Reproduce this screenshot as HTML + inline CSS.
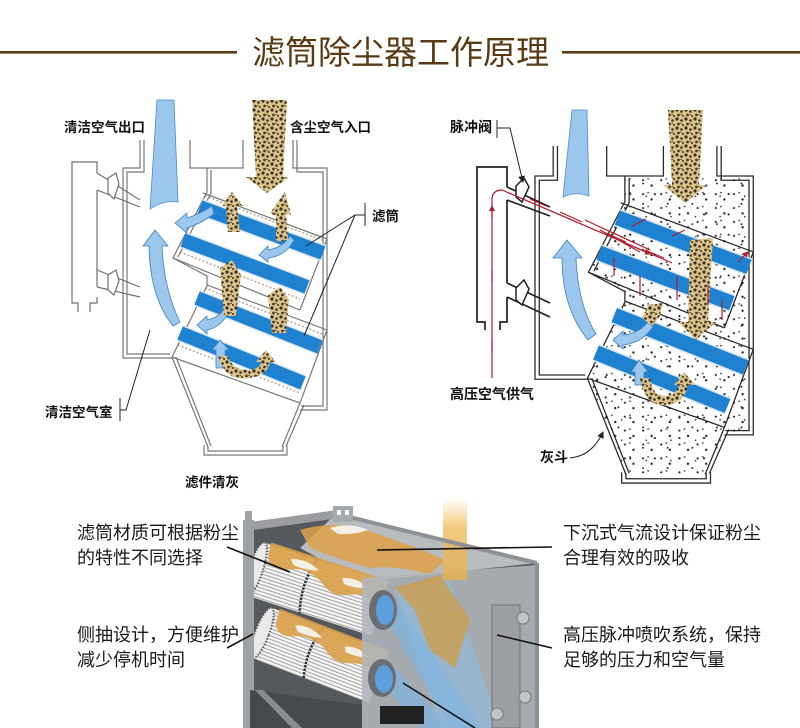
<!DOCTYPE html>
<html><head><meta charset="utf-8">
<style>
html,body{margin:0;padding:0;background:#fff;width:800px;height:728px;overflow:hidden}
svg{display:block}
</style></head><body>
<svg width="800" height="728" viewBox="0 0 800 728" xmlns="http://www.w3.org/2000/svg" font-family="'Liberation Sans','Noto Sans CJK SC',sans-serif">
<defs>
<pattern id="dust" width="9" height="9" patternUnits="userSpaceOnUse">
 <rect width="9" height="9" fill="#dcc48c"/>
 <circle cx="2" cy="2" r="1.6" fill="#3a3020"/>
 <circle cx="6.5" cy="3.5" r="1.3" fill="#3a3020"/>
 <circle cx="3.5" cy="7" r="1.4" fill="#4a3d28"/>
 <circle cx="8" cy="8" r="1" fill="#3a3020"/>
 <rect x="5.5" y="6" width="1.5" height="1" fill="#5a4a30"/>
</pattern>
<pattern id="spk" width="17" height="13" patternUnits="userSpaceOnUse">
 <circle cx="3" cy="3" r="1" fill="#222"/>
 <circle cx="11" cy="8" r="1.1" fill="#222"/>
 <rect x="7" y="1" width="1.6" height="1.2" fill="#333"/>
</pattern>
<pattern id="spk2" width="23" height="19" patternUnits="userSpaceOnUse">
 <circle cx="5" cy="14" r="1" fill="#222"/>
 <circle cx="17" cy="4" r="0.9" fill="#222"/>
 <circle cx="20" cy="16" r="0.8" fill="#333"/>
</pattern>
<pattern id="pleat" width="6" height="3.4" patternUnits="userSpaceOnUse">
 <rect width="6" height="3.4" fill="#f3f3f3"/>
 <rect y="2.5" width="6" height="0.9" fill="#9a9a9a"/>
</pattern>
<linearGradient id="ycol" x1="0" y1="0" x2="0" y2="1">
 <stop offset="0" stop-color="#f2c46a" stop-opacity="0"/>
 <stop offset="0.35" stop-color="#efbe60" stop-opacity="0.8"/>
 <stop offset="1" stop-color="#e6b050" stop-opacity="0.85"/>
</linearGradient>
<marker id="ra" markerWidth="6" markerHeight="6" refX="5" refY="3" orient="auto" markerUnits="userSpaceOnUse">
 <path d="M0,0 L6,3 L0,6 Z" fill="#b01c2c"/>
</marker>
<marker id="ka" markerWidth="7" markerHeight="7" refX="6" refY="3.5" orient="auto" markerUnits="userSpaceOnUse">
 <path d="M0,0 L7,3.5 L0,7 Z" fill="#222"/>
</marker>
<clipPath id="dirty"><path d="M207,170 H325 V408 H300 L282,447 H208 L172,357 L207,286 V276 L173,258 L207,192 Z"/></clipPath>
<g id="casing" fill="none" stroke="currentColor" stroke-width="1.2">
 <path d="M140,140 V168 H123 V358 H172"/>
 <path d="M144,140 V172 H127 V354 H170"/>
 <path d="M190,140 V168 H243 V140"/>
 <path d="M293,140 V168 H327 V410 H300"/>
 <path d="M297,140 V172 H323 V406 H301"/>
 <path d="M207,168 V192 L173,258 L207,276 V286 L172,357"/>
 <path d="M211,170 V193 L178,257"/>
 <path d="M172,357 L208,447 M300,403 L282,447"/>
 <path d="M176,357 L211,446 M304,405 L286,446"/>
 <path d="M204,445 V455 H287 V445 M208,446 V451 H283 V446"/>
 <path d="M203,193 L327,239 M173,258 L300,310 M327,239 L300,310"/>
 <path d="M207,285 L327,330 M172,357 L300,403 M327,330 L300,403"/>
</g>
<g id="stripes" fill="none" stroke-linecap="butt">
 <g stroke="#d9e7f3" stroke-width="17">
  <path d="M200,207 L323,253 M183,240 L307,287 M197,298 L320,347 M180,333 L303,383"/>
 </g>
 <g stroke="#1f82d0" stroke-width="14">
  <path d="M200,207 L323,253 M183,240 L307,287 M197,298 L320,347 M180,333 L303,383"/>
 </g>
</g>
</defs>

<!-- Title -->
<rect x="0" y="51" width="237" height="2.6" fill="#5e3d12"/>
<rect x="562" y="51" width="238" height="2.6" fill="#5e3d12"/>
<text x="252" y="64" font-size="33" fill="#5a3a14">滤筒除尘器工作原理</text>

<!-- ============ LEFT DIAGRAM ============ -->
<g fill="none" stroke="#707070" stroke-width="1.2">
 <path d="M97,173 V162 H72 V303 H78 V312 M90,312 V303 H97 V297 M97,287 V190"/>
 <path d="M97,173 L140,200 M97,190 L140,207"/>
 <path d="M97,270 L140,287 M97,287 L140,297"/>
</g>
<path d="M108,178 L116,173 L119,184 L114,199 L108,193 Z" fill="#fff" stroke="#707070" stroke-width="1.2"/>
<path d="M108,275 L116,270 L119,281 L114,295 L108,290 Z" fill="#fff" stroke="#707070" stroke-width="1.2"/>
<use href="#casing" style="color:#777"/>
<g fill="none" stroke="#9a8060" stroke-width="1.5" stroke-dasharray="2 2" opacity="0.7">
 <path d="M205,196 L325,241 M180,252 L300,299 M205,288 L322,334 M178,345 L300,393"/>
</g>
<use href="#stripes"/>
<!-- outlet and inlet -->
<path d="M157,100 L174,100 L178,202 Q163,200 150,209 Z" fill="#9cc7ec" stroke="#4d8cc8" stroke-width="0.8"/>
<path d="M252,100 L287,100 L283,177 L289,177 L267,193 L246,177 L256,177 Z" fill="url(#dust)"/>
<!-- big curved blue arrow -->
<path d="M143,246 L155,230 L168,246 L162,246 Q164,290 180,322 L173,326 Q150,298 149,246 Z" fill="#9cc7ec" stroke="#3c7fc0" stroke-width="0.8"/>
<!-- small blue arrows -->
<g fill="#9cc7ec" stroke="#3c7fc0" stroke-width="0.8">
 <path d="M175,223 L187,213 L187,218 Q200,214 212,206 L214,214 Q200,224 187,228 L187,233 Z"/>
 <path d="M259,255 L268,246 L268,250 Q282,248 290,236 L294,240 Q286,256 268,258 L268,262 Z"/>
 <path d="M197,325 L207,316 L207,320 Q218,318 225,308 L229,311 Q222,327 207,330 L207,334 Z"/>
 <path d="M212,350 L220,340 L229,350 L225,350 L226,368 L216,368 L216,350 Z"/>
</g>
<!-- dust arrows -->
<g fill="url(#dust)">
 <path d="M222,206 L232,192 L243,206 L237,206 L240,232 L228,232 L226,206 Z"/>
 <path d="M270,213 L285,192 L291,215 L286,214 L288,240 L276,242 L276,216 Z"/>
 <path d="M220,268 L232,260 L241,275 L236,316 L224,316 Z"/>
 <path d="M268,295 L280,287 L289,300 L286,333 L272,333 Z"/>
 <path d="M218,356 Q225,382 250,378 Q268,375 270,362 L276,362 L266,350 L256,362 L262,362 Q258,370 248,370 Q232,370 228,356 Z"/>
</g>
<!-- left labels -->
<g font-size="13.5" font-weight="bold" fill="#111">
 <text x="64" y="132">清洁空气出口</text>
 <text x="290" y="132">含尘空气入口</text>
 <text x="372" y="221">滤筒</text>
 <text x="45" y="417">清洁空气室</text>
 <text x="185" y="487">滤件清灰</text>
</g>
<g fill="none" stroke="#222" stroke-width="1">
 <path d="M365,203 V226 M365,215 H355 L306,246 M355,215 L304,336"/>
 <path d="M120,398 V421 M120,410 H126 L150,330"/>
</g>

<!-- ============ RIGHT DIAGRAM ============ -->
<g transform="translate(535,146) scale(1.07) translate(-123,-140)">
 <rect x="160" y="160" width="180" height="300" fill="url(#spk)" clip-path="url(#dirty)"/>
 <rect x="160" y="160" width="180" height="300" fill="url(#spk2)" clip-path="url(#dirty)"/>
 <use href="#casing" style="color:#2a2a2a"/>
 <use href="#stripes"/>
</g>
<g fill="none" stroke="#222" stroke-width="1.7">
 <path d="M507,187 V167 H477 V322 H485 V330 M500,330 V322 H507 V297 M507,283 V200"/>
 <path d="M507,187 L550,207 M507,200 L550,216"/>
 <path d="M507,283 L550,303 M507,297 L550,317"/>
</g>
<path d="M516,186 L524,178 L529,187 L522,202 L516,197 Z" fill="#fff" stroke="#222" stroke-width="1.5"/>
<path d="M516,288 L524,280 L529,289 L522,305 L516,300 Z" fill="#fff" stroke="#222" stroke-width="1.5"/>
<!-- outlet / inlet right -->
<path d="M572,110 L587,110 L589,196 Q576,191 563,197 Z" fill="#9cc7ec" stroke="#4d8cc8" stroke-width="0.8"/>
<path d="M668,110 L703,110 L699,185 L707,185 L685,203 L663,185 L672,185 Z" fill="url(#dust)"/>
<path d="M690,240 L713,238 L708,322 L716,322 L696,340 L678,322 L688,322 Z" fill="url(#dust)"/>
<path d="M553,258 L567,240 L582,258 L576,258 Q578,305 596,334 L588,340 Q562,308 562,258 Z" fill="#9cc7ec" stroke="#3c7fc0" stroke-width="0.8"/>
<g fill="#9cc7ec" stroke="#3c7fc0" stroke-width="0.8">
 <path d="M613,340 L623,331 L623,335 Q638,334 648,322 L653,327 Q642,343 623,345 L623,349 Z"/>
 <path d="M631,372 L639,360 L648,372 L644,372 L644,385 L635,385 L635,372 Z"/>
</g>
<g fill="url(#dust)">
 <path d="M642,318 L648,305 L662,303 L660,316 L652,326 Z"/>
 <path d="M640,378 Q645,408 668,405 Q685,402 688,385 L695,385 L684,372 L674,385 L679,385 Q676,395 666,396 Q652,396 650,378 Z"/>
</g>
<!-- red pulse lines -->
<g fill="none" stroke="#b01c2c" stroke-width="1.2">
 <path d="M492,378 V200 Q492,190 502,190 L672,263"/>
 <path d="M585,220 L650,250 M600,230 L640,252"/>
 <path d="M492,352 V340 M492,282 V270 M492,218 V206" marker-end="url(#ra)"/>
 <path d="M530,199 L546,206 M560,212 L582,222 M606,233 L626,242 M645,250 L664,258 M630,245 L650,254" marker-end="url(#ra)"/>
 <path d="M614,276 V258 M640,296 V276 M677,276 V300 M708,285 V305 M722,300 V320 M646,219 L632,226 M685,230 L672,236 M738,262 L748,252" marker-end="url(#ra)"/>
</g>
<!-- right labels -->
<g font-size="14" font-weight="bold" fill="#111">
 <text x="450" y="132">脉冲阀</text>
 <text x="450" y="399">高压空气供气</text>
 <text x="540" y="462">灰斗</text>
</g>
<g fill="none" stroke="#222" stroke-width="1">
 <path d="M497,120 V138"/>
 <path d="M497,128 H510 L523,182" marker-end="url(#ka)"/>
 <path d="M570,458 Q592,456 603,432" marker-end="url(#ka)"/>
</g>

<!-- ============ PHOTO ============ -->
<g>
 <polygon points="250,525 337,513 537,563 537,728 250,728" fill="#55585c"/>
 <polygon points="337,513 537,563 362,582 300,548" fill="#b9bcbf"/>
 <!-- upper cylinder -->
 <g transform="translate(256,569) rotate(18)">
  <rect x="0" y="-28" width="130" height="56" fill="url(#pleat)"/>
  <ellipse cx="0" cy="0" rx="7" ry="28" fill="#e9e9e9" stroke="#555" stroke-width="2" stroke-dasharray="1.5 1.5"/>
  <path d="M55,-28 Q47,0 55,28" stroke="#222" stroke-width="2.5" stroke-dasharray="2 1.5" fill="none"/>
  <path d="M6,-30 L130,-30 L130,-4 Q112,-12 96,-4 Q80,4 66,-8 Q46,-18 30,-9 Q18,-3 8,-14 Z" fill="#dca048" opacity="0.9"/>
  <path d="M30,-20 Q45,-26 60,-18 Q50,-14 35,-15 Z M85,-18 Q100,-24 112,-16 Q100,-12 88,-13 Z" fill="#f4efe4"/>
 </g>
 <!-- lower cylinder -->
 <g transform="translate(262,633) rotate(21)">
  <rect x="0" y="-27" width="125" height="54" fill="url(#pleat)"/>
  <ellipse cx="0" cy="0" rx="7" ry="27" fill="#e9e9e9" stroke="#555" stroke-width="2" stroke-dasharray="1.5 1.5"/>
  <path d="M55,-27 Q47,0 55,27" stroke="#222" stroke-width="2.5" stroke-dasharray="2 1.5" fill="none"/>
  <path d="M8,-29 L125,-29 L125,-2 Q108,-10 92,-3 Q78,3 64,-8 Q46,-16 30,-8 Q18,-2 10,-12 Z" fill="#dca048" opacity="0.9"/>
  <path d="M28,-19 Q42,-25 58,-17 Q47,-13 33,-14 Z M82,-17 Q96,-23 108,-15 Q96,-11 85,-12 Z" fill="#f4efe4"/>
 </g>
 <!-- orange on top area -->
 <path d="M300,530 Q340,518 380,535 Q420,548 445,560 L430,575 Q400,565 370,568 Q340,560 310,548 Z" fill="#dca048" opacity="0.85"/>
 <path d="M330,528 Q350,522 368,530 Q355,535 338,534 Z" fill="#f4efe4"/>
 <!-- front face -->
 <polygon points="362,578 537,565 537,728 362,728" fill="#b0b5bb" opacity="0.88"/>
 <polygon points="395,590 450,580 500,728 440,728" fill="#8cbde6" opacity="0.55"/>
 <path d="M395,588 L440,575 L470,620 L455,668 L430,650 L415,610 Z" fill="#d49a3c" opacity="0.7"/>
 <!-- blue openings -->
 <g>
  <polygon points="374,600 394,598 482,728 452,728" fill="#7fb3e0" opacity="0.7"/>
  <polygon points="372,668 392,665 450,728 420,728" fill="#7fb3e0" opacity="0.7"/>
  <ellipse cx="383" cy="610" rx="14" ry="20" fill="#6a6e73"/>
  <ellipse cx="385" cy="610" rx="9" ry="15" fill="#5b9fdc"/>
  <ellipse cx="382" cy="678" rx="14" ry="19" fill="#6a6e73"/>
  <ellipse cx="384" cy="679" rx="9" ry="14" fill="#5b9fdc"/>
 </g>
 <!-- yellow column -->
 <rect x="443" y="498" width="24" height="82" fill="url(#ycol)"/>
 <!-- frame -->
 <rect x="243" y="520" width="11" height="208" fill="#9fa2a5"/>
 <rect x="245" y="511" width="7" height="12" fill="#9fa2a5"/>
 <polygon points="250,522 337,510 340,518 253,530" fill="#9a9c9f"/>
 <line x1="337" y1="514" x2="537" y2="563" stroke="#8d9094" stroke-width="4"/>
 <line x1="537" y1="563" x2="537" y2="728" stroke="#8d9094" stroke-width="4"/>
 <rect x="333" y="506" width="20" height="16" fill="#a5a8ab"/>
 <rect x="337" y="510" width="4" height="5" fill="#fff"/>
 <rect x="345" y="510" width="4" height="5" fill="#fff"/>
 <!-- bottom area -->
 <polygon points="250,690 362,705 362,728 250,728" fill="#46494d"/>
 <polygon points="255,690 263,690 302,728 292,728" fill="#8a8d90"/>
 <rect x="380" y="706" width="44" height="18" fill="#222"/>
 <!-- side manifold -->
 <rect x="492" y="605" width="28" height="123" fill="#9b9fa3" stroke="#6f7377"/>
 <circle cx="523" cy="618" r="6" fill="#c2c4c6" stroke="#777"/>
 <circle cx="525" cy="697" r="6" fill="#c2c4c6" stroke="#777"/>
 <circle cx="497" cy="714" r="6" fill="#c2c4c6" stroke="#777"/>
</g>
<!-- leader lines -->
<g stroke="#111" stroke-width="1.6" fill="none">
 <path d="M227,547 L290,572"/>
 <path d="M227,648 L253,634"/>
 <path d="M377,550 L552,547"/>
 <path d="M497,635 L552,648"/>
 <path d="M403,683 L475,728"/>
</g>
<!-- bottom texts -->
<g font-size="18" fill="#1a1a1a">
 <text x="77" y="539">滤筒材质可根据粉尘</text>
 <text x="77" y="564">的特性不同选择</text>
 <text x="77" y="641">侧抽设计，方便维护</text>
 <text x="77" y="666">减少停机时间</text>
 <text x="563" y="539">下沉式气流设计保证粉尘</text>
 <text x="563" y="564">合理有效的吸收</text>
 <text x="563" y="641">高压脉冲喷吹系统，保持</text>
 <text x="563" y="666">足够的压力和空气量</text>
</g>
</svg>
</body></html>
